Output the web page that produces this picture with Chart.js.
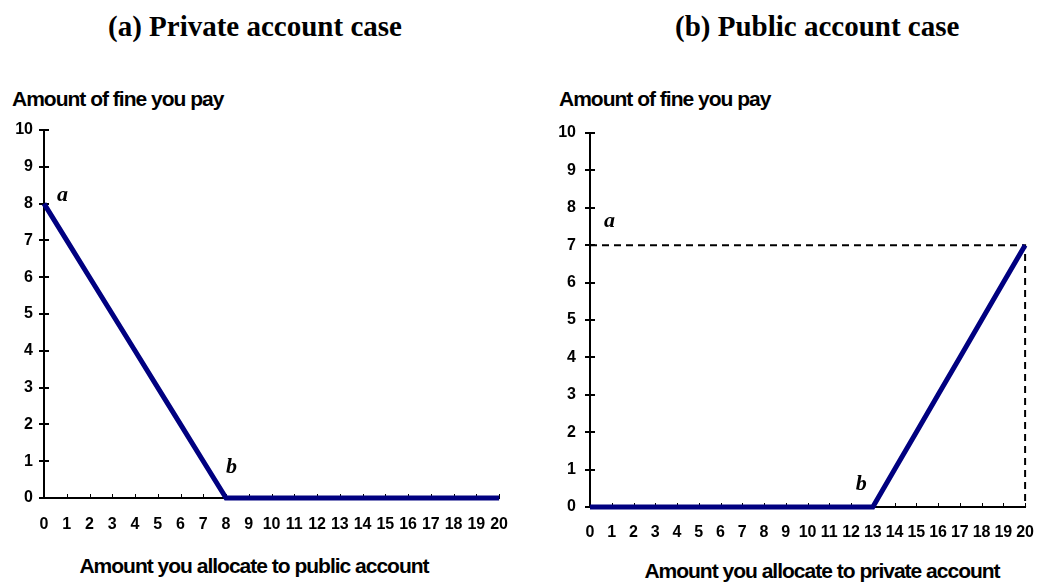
<!DOCTYPE html>
<html>
<head>
<meta charset="utf-8">
<script src="https://cdn.jsdelivr.net/npm/chart.js@4.4.1/dist/chart.umd.min.js"></script>
<style>
  body { margin: 0; background: #fff; }
  #wrap { position: relative; width: 1050px; height: 582px; background: #fff; overflow: hidden; }
  canvas { position: absolute; top: 0; }
  .head { position: absolute; font-family: "Liberation Serif", "Times New Roman", serif; font-weight: bold; font-size: 29px; line-height: 29px; white-space: nowrap; color: #000; }
  .axt { position: absolute; font-family: "Liberation Sans", Arial, sans-serif; font-weight: bold; font-size: 21px; line-height: 21px; letter-spacing: -1px; white-space: nowrap; color: #000; }
  .ctr { width: 500px; text-align: center; }
</style>
</head>
<body>
<div id="wrap">
  <div class="head" style="left:108px; top:12px;">(a) Private account case</div>
  <div class="head" style="left:675px; top:12px;">(b) Public account case</div>
  <div class="axt" style="left:12px; top:88px;">Amount of fine you pay</div>
  <div class="axt" style="left:559px; top:88px;">Amount of fine you pay</div>
  <div class="axt ctr" style="left:4px; top:555px;">Amount you allocate to public account</div>
  <div class="axt ctr" style="left:572px; top:560px;">Amount you allocate to private account</div>
  <canvas id="privateChart" width="525" height="582" style="left:0px;"></canvas>
  <canvas id="publicChart" width="525" height="582" style="left:525px;"></canvas>
</div>
<script>
'use strict';

// amount allocated (x axis)
var allocation = [0, 1, 2, 3, 4, 5, 6, 7, 8, 9, 10, 11, 12, 13, 14, 15, 16, 17, 18, 19, 20];
// fine paid, private account case
var privateFine = [8, 7, 6, 5, 4, 3, 2, 1, 0, 0, 0, 0, 0, 0, 0, 0, 0, 0, 0, 0, 0];
// fine paid, public account case
var publicFine = [0, 0, 0, 0, 0, 0, 0, 0, 0, 0, 0, 0, 0, 0, 1, 2, 3, 4, 5, 6, 7];
// dashed guide in the public case
var guideX = [0, 20, 20];
var guideY = [7, 7, 0];

var yMax = 10;
var xMax = 20;

function toPoints(xs, ys) {
  var pts = [];
  for (var i = 0; i < xs.length; i++) {
    pts.push({x: xs[i], y: ys[i]});
  }
  return pts;
}

// little tick marks: crossing on the y axis, short upward ones on the x axis
var axisTicks = {
  id: 'axisTicks',
  beforeDatasetsDraw: function(chart) {
    var ctx = chart.ctx;
    var xs = chart.scales.x;
    var ys = chart.scales.y;
    ctx.save();
    ctx.strokeStyle = '#000';
    ctx.lineWidth = 2;
    ys.ticks.forEach(function(t) {
      var py = Math.round(ys.getPixelForValue(t.value));
      ctx.beginPath();
      ctx.moveTo(xs.left - 5, py);
      ctx.lineTo(xs.left + 5, py);
      ctx.stroke();
    });
    ctx.lineWidth = 1;
    xs.ticks.forEach(function(t) {
      if (t.value === 0) return;
      var px = Math.round(xs.getPixelForValue(t.value)) + 0.5;
      ctx.beginPath();
      ctx.moveTo(px, ys.bottom);
      ctx.lineTo(px, ys.bottom - 4);
      ctx.stroke();
    });
    ctx.restore();
  }
};

// italic point letters a / b
var pointLetters = {
  id: 'pointLetters',
  afterDatasetsDraw: function(chart, args, opts) {
    var ctx = chart.ctx;
    ctx.save();
    ctx.fillStyle = '#000';
    ctx.font = 'italic bold 22px "Liberation Serif", "Times New Roman", serif';
    ctx.textAlign = 'left';
    ctx.textBaseline = 'alphabetic';
    (opts.items || []).forEach(function(it) {
      var px = chart.scales.x.getPixelForValue(it.x);
      var py = chart.scales.y.getPixelForValue(it.y);
      ctx.fillText(it.text, px + it.dx, py + it.dy);
    });
    ctx.restore();
  }
};

function makeChart(id, datasets, area, letters) {
  var ctx = document.getElementById(id).getContext('2d');
  return new Chart(ctx, {
    type: 'line',
    data: { datasets: datasets },
    plugins: [axisTicks, pointLetters],
    options: {
      responsive: false,
      animation: false,
      devicePixelRatio: 1,
      layout: { padding: { top: area.top, right: area.right, left: 0, bottom: 0 } },
      plugins: {
        legend: { display: false },
        tooltip: { enabled: false },
        pointLetters: { items: letters }
      },
      elements: { point: { radius: 0 } },
      scales: {
        x: {
          type: 'linear',
          min: 0,
          max: xMax,
          afterFit: function(scale) { scale.height = area.xHeight; },
          grid: { display: false, drawTicks: false },
          border: { display: true, color: '#000', width: 2 },
          ticks: {
            stepSize: 1,
            autoSkip: false,
            maxRotation: 0,
            padding: area.xPad,
            color: '#000',
            font: { family: '"Liberation Sans", Arial, sans-serif', size: 16, weight: 'bold' }
          }
        },
        y: {
          min: 0,
          max: yMax,
          afterFit: function(scale) { scale.width = area.left; },
          grid: { display: false, drawTicks: false },
          border: { display: true, color: '#000', width: 2 },
          ticks: {
            stepSize: 1,
            padding: area.yPad,
            color: '#000',
            font: { family: '"Liberation Sans", Arial, sans-serif', size: 16, weight: 'bold' }
          }
        }
      }
    }
  });
}

makeChart('privateChart', [
  {
    data: toPoints(allocation, privateFine),
    borderColor: '#000080',
    borderWidth: 5,
    clip: false,
    tension: 0
  }
], { left: 44, right: 21, top: 130, xHeight: 84, xPad: 17, yPad: 11 }, [
  { text: 'a', x: 0, y: 8, dx: 13, dy: -3 },
  { text: 'b', x: 8, y: 0, dx: 0, dy: -25 }
]);

makeChart('publicChart', [
  {
    data: toPoints(allocation, publicFine),
    borderColor: '#000080',
    borderWidth: 5,
    clip: false,
    tension: 0
  },
  {
    data: toPoints(guideX, guideY),
    borderColor: '#000',
    borderWidth: 2,
    borderDash: [7, 5],
    clip: false,
    tension: 0
  }
], { left: 65, right: 11, top: 133, xHeight: 75, xPad: 16, yPad: 14 }, [
  { text: 'a', x: 0, y: 7, dx: 14, dy: -18 },
  { text: 'b', x: 13, y: 0, dx: -17, dy: -17 }
]);
</script>
</body>
</html>
